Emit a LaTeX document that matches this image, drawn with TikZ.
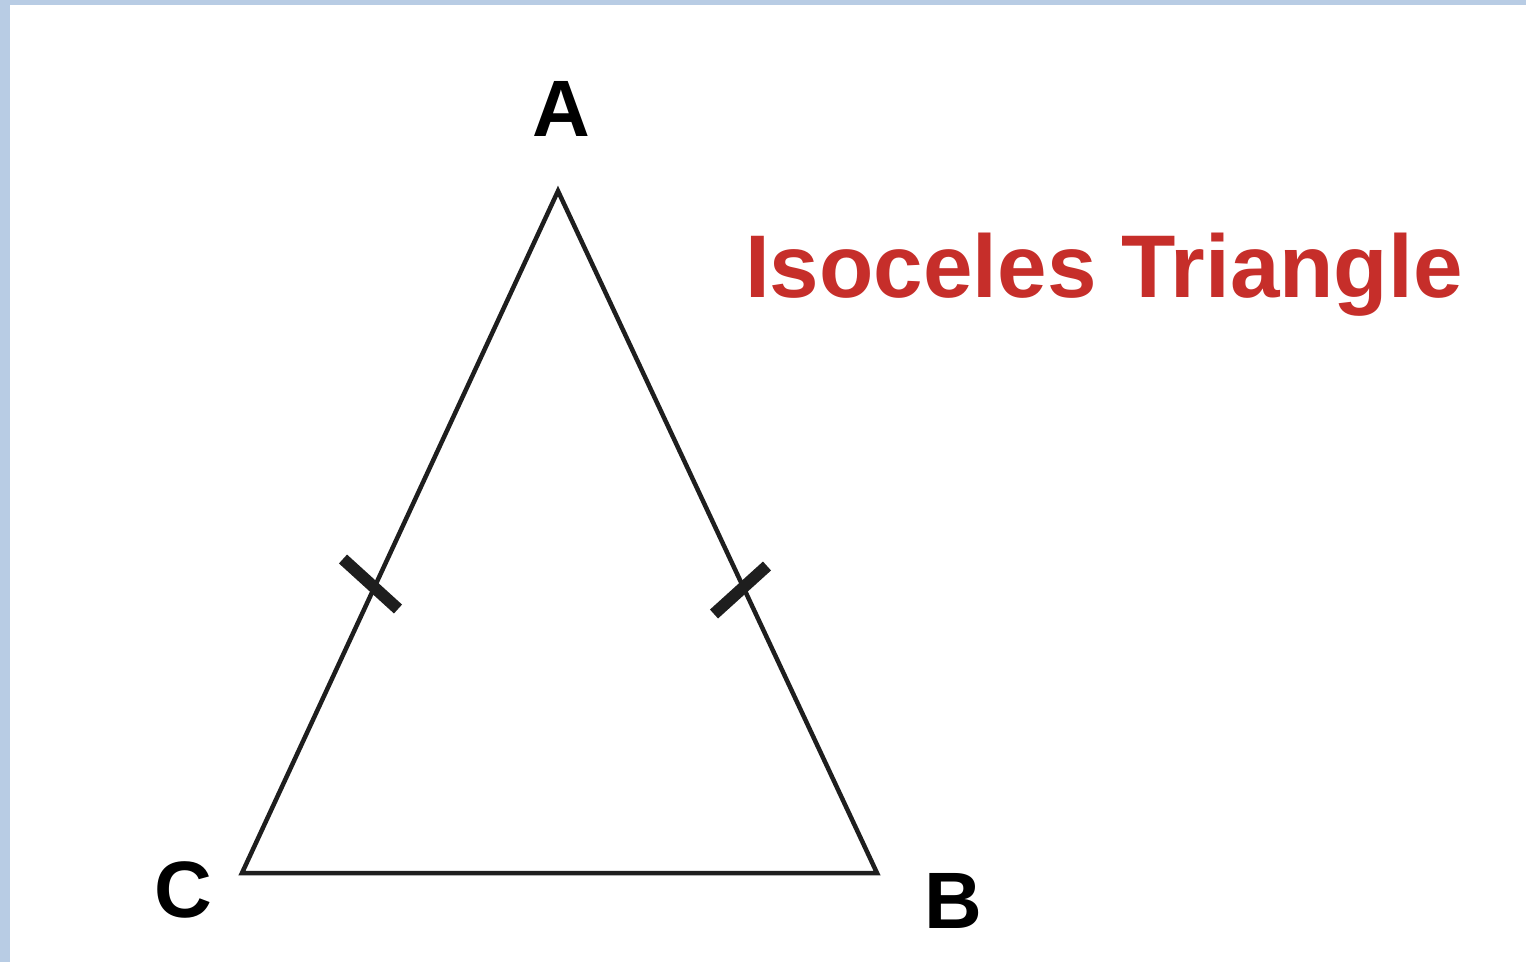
\documentclass[tikz,border=0pt]{standalone}
\usepackage{fontspec}
\setmainfont{Liberation Sans}
\definecolor{frame}{HTML}{B8CCE4}
\definecolor{titlered}{HTML}{C62E2A}
\definecolor{ink}{HTML}{1E1E1E}
\begin{document}
\begin{tikzpicture}[x=1pt,y=-1pt,
  side/.style={draw=ink, line width=4.5pt, line join=miter},
  tick/.style={draw=ink, line width=12pt},
  vlabel/.style={font=\bfseries\fontsize{80}{80}\selectfont, inner sep=0pt},
  title/.style={font=\bfseries\fontsize{89}{89}\selectfont, text=titlered, inner sep=0pt, anchor=base west}]
\useasboundingbox (0,0) rectangle (1526,962);
\fill[frame] (0,0) rectangle (1526,962);
\fill[white] (10,5) rectangle (1526,962);
\coordinate (A) at (558,191);
\coordinate (C) at (242,873);
\coordinate (B) at (877,873);
\draw[side] (A) -- (B) -- (C) -- cycle;
\coordinate (t1a) at (343,559);
\coordinate (t1b) at (398,609);
\coordinate (t2a) at (714,614);
\coordinate (t2b) at (767,566);
\draw[tick] (t1a) -- (t1b);
\draw[tick] (t2a) -- (t2b);
\node[vlabel] (lA) at (561,109) {A};
\node[vlabel] (lC) at (183,890) {C};
\node[vlabel] (lB) at (953,901) {B};
\node[title] (t) at (745,297) {Isoceles Triangle};
\end{tikzpicture}
\end{document}
